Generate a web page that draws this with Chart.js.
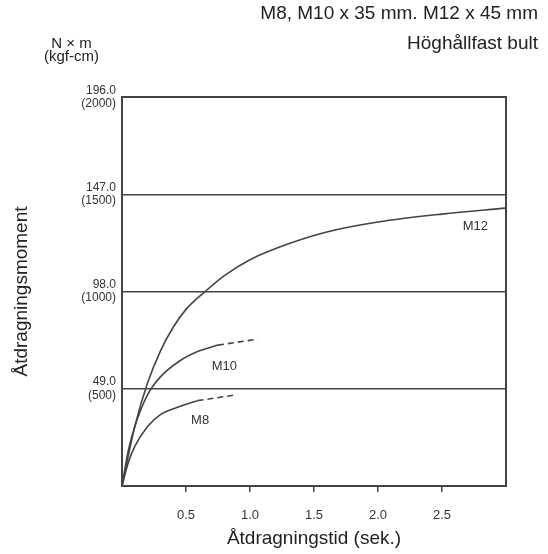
<!DOCTYPE html>
<html><head><meta charset="utf-8">
<script src="https://cdn.jsdelivr.net/npm/chart.js@4"></script>
<style>
body{margin:0;background:#fff;font-family:Arial,"Liberation Sans",sans-serif;color:#222}
#wrap{position:relative;width:548px;height:554px}
.t{position:absolute;white-space:nowrap}
</style></head><body>
<div id="wrap">
<div class="t" style="right:10px;top:2px;font-size:19px">M8, M10 x 35 mm. M12 x 45 mm</div>
<div class="t" style="right:10px;top:32px;font-size:19px">Höghållfast bult</div>
<div class="t" style="left:44px;top:36px;font-size:15px;line-height:13px;text-align:center">N × m<br>(kgf-cm)</div>
<canvas id="c" width="548" height="554"></canvas>
</div>
<script>
var m12X = [0, 0.1, 0.2, 0.3, 0.4, 0.5, 0.65, 0.8, 1.0, 1.3, 1.6, 2.0, 2.5, 3.0]
var m12Y = [0, 30, 52, 68, 80, 89, 98, 106, 114, 122, 128, 133, 137, 140]
var m10X = [0, 0.05, 0.1, 0.2, 0.3, 0.45, 0.6, 0.75]
var m10Y = [0, 18, 30, 46, 55, 63, 68, 71]
var m10DashX = [0.75, 1.06]
var m10DashY = [71, 74]
var m8X = [0, 0.05, 0.1, 0.2, 0.3, 0.45, 0.59]
var m8Y = [0, 12, 20, 30, 36, 40, 43]
var m8DashX = [0.59, 0.9]
var m8DashY = [43, 46]
var yTicks = [49, 98, 147, 196]
var yKgf = ["(500)", "(1000)", "(1500)", "(2000)"]
var xTicks = [0.5, 1.0, 1.5, 2.0, 2.5]
var xLabels = ["0.5", "1.0", "1.5", "2.0", "2.5"]
var curveLabels = [{t: "M12", x: 2.76, y: 131}, {t: "M10", x: 0.8, y: 60}, {t: "M8", x: 0.61, y: 33}]

function pts(xs, ys) {
    return xs.map(function(x, i) { return {x: x, y: ys[i]} })
}
function line(d, dash) {
    return {data: d, borderColor: '#444', borderWidth: 1.6, borderDash: dash ? [6, 4] : [],
        pointRadius: 0, tension: 0.4, cubicInterpolationMode: 'monotone', fill: false}
}

var labelPlugin = {
    id: 'labels',
    afterDatasetsDraw: function(chart) {
        var ctx = chart.ctx
        ctx.save()
        ctx.fillStyle = '#333'
        ctx.font = '13px Arial'
        ctx.textAlign = 'center'
        ctx.textBaseline = 'middle'
        curveLabels.forEach(function(l) {
            ctx.fillText(l.t, chart.scales.x.getPixelForValue(l.x), chart.scales.y.getPixelForValue(l.y))
        })
        ctx.restore()
    }
}

new Chart(document.getElementById('c'), {
    type: 'line',
    data: {datasets: [
        line(pts(m12X, m12Y)), line(pts(m10X, m10Y)), line(pts(m10DashX, m10DashY), true),
        line(pts(m8X, m8Y)), line(pts(m8DashX, m8DashY), true)
    ]},
    options: {
        responsive: false, animation: false,
        layout: {padding: {top: 97, right: 42, left: 6, bottom: 0}},
        plugins: {legend: {display: false}, tooltip: {enabled: false}},
        scales: {
            x: {
                type: 'linear', min: 0, max: 3.0,
                afterBuildTicks: function(s) { s.ticks = xTicks.map(function(v) { return {value: v} }) },
                afterFit: function(s) { s.height = 68 },
                ticks: {color: '#333', font: {size: 13}, padding: 16},
                grid: {drawOnChartArea: false, color: '#444', tickLength: 6, lineWidth: 1.5},
                border: {color: '#444', width: 2},
                title: {display: true, text: 'Åtdragningstid (sek.)', color: '#222', font: {size: 19}, padding: {top: 10}}
            },
            y: {
                min: 0, max: 196,
                afterBuildTicks: function(s) { s.ticks = yTicks.map(function(v) { return {value: v} }) },
                afterFit: function(s) { s.width = 116 },
                ticks: {color: '#333', font: {size: 12, lineHeight: 1.1}, padding: 6,
                    callback: function(v) { var i = yTicks.indexOf(v); return [v.toFixed(1), yKgf[i]] }},
                grid: {color: '#444', lineWidth: 1.5, tickLength: 0},
                border: {color: '#444', width: 2},
                title: {display: true, text: 'Åtdragningsmoment', color: '#222', font: {size: 19}, padding: {bottom: 2}}
            },
            x2: {position: 'top', display: true, ticks: {display: false}, grid: {display: false},
                border: {color: '#444', width: 2}, afterFit: function(s) { s.height = 0 }},
            y2: {position: 'right', display: true, ticks: {display: false}, grid: {display: false},
                border: {color: '#444', width: 2}, afterFit: function(s) { s.width = 0 }}
        }
    },
    plugins: [labelPlugin]
})
</script>
</body></html>
